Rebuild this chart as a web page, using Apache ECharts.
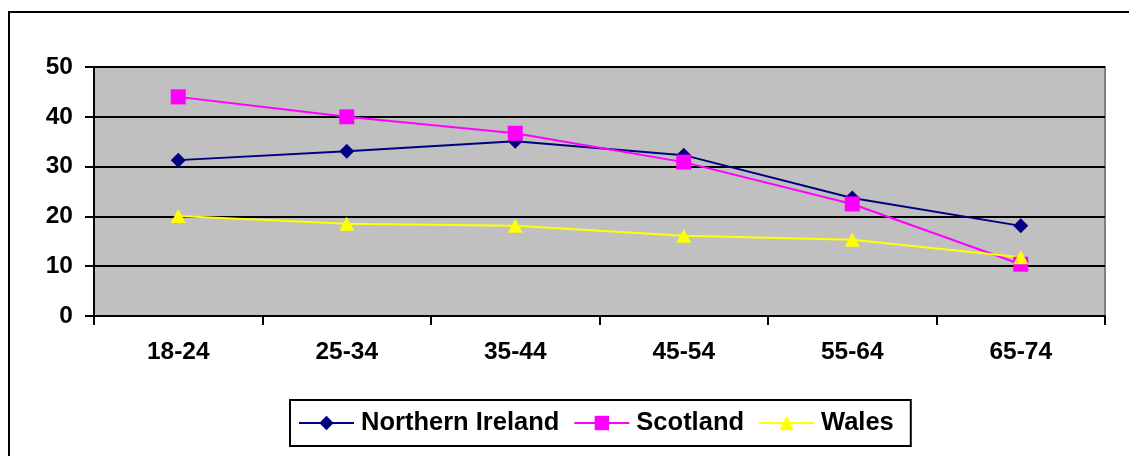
<!DOCTYPE html>
<html>
<head>
<meta charset="utf-8">
<style>
  html, body { margin: 0; padding: 0; background: #ffffff; }
  #chart { width: 1129px; height: 456px; }
</style>
<script src="https://cdn.jsdelivr.net/npm/echarts@6/dist/echarts.min.js"></script>
</head>
<body>
<div id="chart"></div>
<script>
// Age groups along the category axis
const ageGroups = ['18-24', '25-34', '35-44', '45-54', '55-64', '65-74'];

// Values per country
const northernIreland = [31.3, 33.1, 35.1, 32.3, 23.7, 18.1];
const scotland = [44.0, 40.0, 36.7, 30.9, 22.5, 10.4];
const wales = [20.1, 18.5, 18.1, 16.1, 15.3, 11.8];

// Value-axis ticks
const yTicks = [0, 10, 20, 30, 40, 50];

const FONT = '"Liberation Sans", Arial, sans-serif';

const chart = echarts.init(document.getElementById('chart'), null, { renderer: 'canvas' });

function lineSeries(name, data, color, symbol, size) {
  return {
    name: name,
    type: 'line',
    data: data,
    symbol: symbol,
    symbolSize: size,
    showAllSymbol: true,
    lineStyle: { color: color, width: 2 },
    itemStyle: { color: color, borderWidth: 0 },
    emphasis: { disabled: true },
    animation: false,
    z: 3
  };
}

chart.setOption({
  backgroundColor: '#ffffff',
  animation: false,
  graphic: [{
    type: 'rect',
    shape: { x: 9, y: 12, width: 1200, height: 500 },
    style: { fill: 'none', stroke: '#000000', lineWidth: 2 },
    silent: true,
    z: 100
  }],
  grid: {
    left: 94, right: 24, top: 67, bottom: 140,
    show: true,
    backgroundColor: '#C0C0C0',
    borderColor: '#808080',
    borderWidth: 2
  },
  legend: {
    left: 290,
    top: 400,
    orient: 'horizontal',
    itemWidth: 55,
    itemHeight: 18,
    itemGap: 14,
    padding: [10, 17, 10, 8],
    borderColor: '#000000',
    borderWidth: 2,
    backgroundColor: '#ffffff',
    selectedMode: false,
    textStyle: {
      fontFamily: FONT, fontWeight: 'bold', fontSize: 25.5, color: '#000000',
      padding: [0, 0, 0, 2]
    },
    data: ['Northern Ireland', 'Scotland', 'Wales']
  },
  xAxis: {
    type: 'category',
    data: ageGroups,
    boundaryGap: true,
    axisLine: { show: true, lineStyle: { color: '#000000', width: 2 } },
    axisTick: { show: true, interval: 0, length: 9, lineStyle: { color: '#000000', width: 2 } },
    axisLabel: {
      interval: 0, margin: 24,
      fontFamily: FONT, fontWeight: 'bold', fontSize: 24.5, color: '#000000'
    },
    splitLine: { show: false }
  },
  yAxis: {
    type: 'value',
    min: yTicks[0],
    max: yTicks[yTicks.length - 1],
    interval: 10,
    axisLine: { show: true, lineStyle: { color: '#000000', width: 2 } },
    axisTick: { show: true, length: 9, lineStyle: { color: '#000000', width: 2 } },
    axisLabel: {
      margin: 21,
      fontFamily: FONT, fontWeight: 'bold', fontSize: 24.5, color: '#000000'
    },
    splitLine: { show: true, lineStyle: { color: '#000000', width: 2 } }
  },
  series: [
    lineSeries('Northern Ireland', northernIreland, '#000080', 'diamond', [15, 15]),
    lineSeries('Scotland', scotland, '#FF00FF', 'rect', [15, 15]),
    lineSeries('Wales', wales, '#FFFF00', 'triangle', [15, 14])
  ]
});
</script>
</body>
</html>
